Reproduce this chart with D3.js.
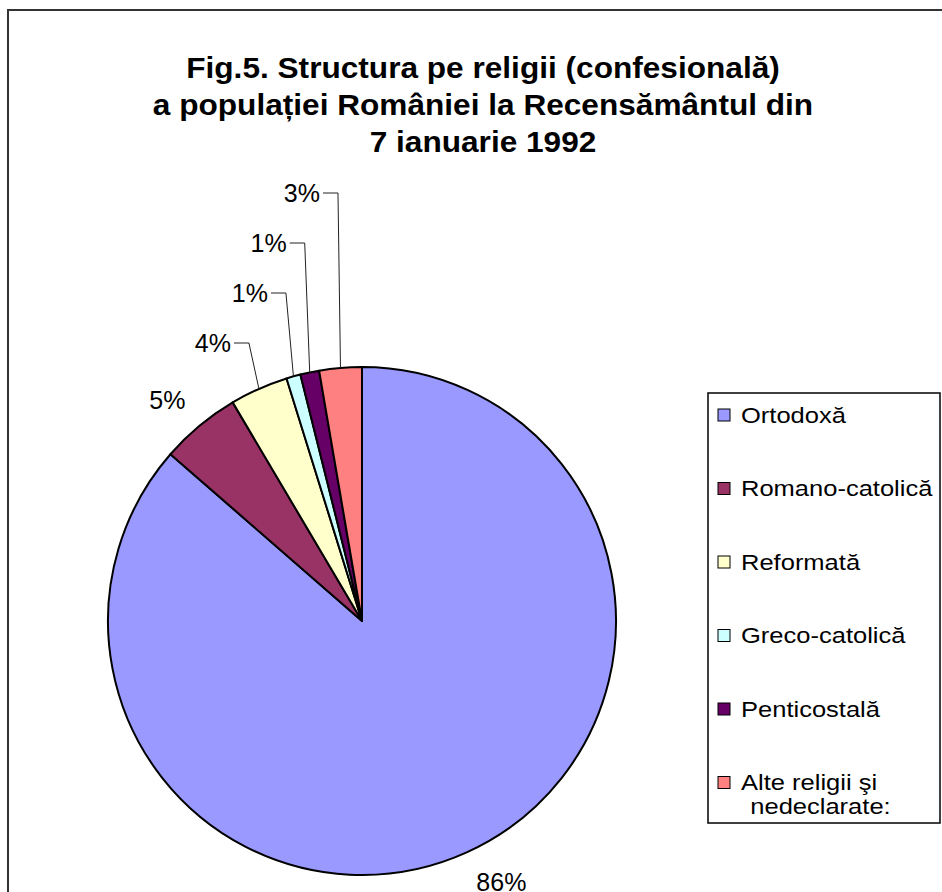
<html>
<script src="https://d3js.org/d3.v7.js"></script>
<body style="margin:0; background:#fff;">
<svg id="chart" width="942" height="892"></svg>
<script>
    // religii, recensamantul 1992 (proportii)
    let religii = ["Ortodoxă", "Romano-catolică", "Reformată", "Greco-catolică", "Penticostală", "Alte religii şi nedeclarate:"];
    let procente = [0.864, 0.051, 0.037, 0.009, 0.012, 0.027];
    let culori = ["#9999FF", "#993366", "#FFFFCC", "#CCFFFF", "#660066", "#FF8080"];
    let titlu = ["Fig.5. Structura pe religii (confesională)", "a populației României la Recensământul din", "7 ianuarie 1992"];

    let svg = d3.select("#chart");
    let font = "Arial, 'Liberation Sans', sans-serif";

    // chenar exterior
    svg.append("rect")
        .attr("x", 8).attr("y", 10)
        .attr("width", 960).attr("height", 920)
        .attr("fill", "white")
        .attr("stroke", "#333").attr("stroke-width", 2);

    svg.selectAll(".title").data(titlu).join("text")
        .attr("class", "title")
        .attr("transform", (d, i) => `translate(483,${78 + i * 37}) scale(1.09,1)`)
        .attr("text-anchor", "middle")
        .style("font-family", font)
        .style("font-weight", "bold")
        .style("font-size", "29px")
        .text(d => d);

    let cx = 362, cy = 621, r = 254;
    let pie = d3.pie().sort(null).value(d => d);
    let arcs = pie(procente);
    let arc = d3.arc().innerRadius(0).outerRadius(r);
    let edge = d3.arc().innerRadius(r).outerRadius(r);
    let outside = d3.arc().innerRadius(r + 22).outerRadius(r + 22);
    let fmt = d3.format(".0%");

    let g = svg.append("g").attr("transform", `translate(${cx},${cy})`);
    g.selectAll(".slice").data(arcs).join("path")
        .attr("class", "slice")
        .attr("d", arc)
        .attr("fill", (d, i) => culori[i])
        .attr("stroke", "black")
        .attr("stroke-width", 2)
        .attr("stroke-linejoin", "round");

    // etichete mari: coltul cel mai apropiat al textului langa felie
    let mari = arcs.filter(d => d.value > 0.045);
    g.selectAll(".lbl").data(mari).join("text")
        .attr("class", "lbl")
        .attr("x", d => outside.centroid(d)[0])
        .attr("y", d => outside.centroid(d)[1])
        .attr("dy", d => outside.centroid(d)[1] > 0 ? "0.75em" : "0")
        .attr("text-anchor", d => outside.centroid(d)[0] > 0 ? "start" : "end")
        .style("font-family", font)
        .style("font-size", "25px")
        .text(d => fmt(d.value));

    // etichete mici, stivuite deasupra cu linii de legatura
    let mici = arcs.filter(d => d.value <= 0.045);
    mici.forEach((d, k) => {
        let p = edge.centroid(d);
        let ly = -r - 24 - k * 50;
        let ex = p[0] - (mici.length - k) * 2.5;
        g.append("polyline")
            .attr("points", [[ex - 15, ly], [ex, ly], p].map(q => q.join(",")).join(" "))
            .attr("fill", "none")
            .attr("stroke", "#222")
            .attr("stroke-width", 1);
        g.append("text")
            .attr("x", ex - 18)
            .attr("y", ly)
            .attr("dy", "0.35em")
            .attr("text-anchor", "end")
            .style("font-family", font)
            .style("font-size", "25px")
            .text(fmt(d.value));
    });

    // legenda
    let leg = svg.append("g").attr("transform", "translate(708,393)");
    leg.append("rect")
        .attr("width", 232).attr("height", 430)
        .attr("fill", "white")
        .attr("stroke", "black").attr("stroke-width", 1.5);
    let item = leg.selectAll(".item").data(religii).join("g")
        .attr("class", "item")
        .attr("transform", (d, i) => `translate(10,${22 + i * 73.5})`);
    item.append("rect")
        .attr("x", 0).attr("y", -6)
        .attr("width", 12).attr("height", 12)
        .attr("fill", (d, i) => culori[i])
        .attr("stroke", "black").attr("stroke-width", 1);
    item.append("text")
        .attr("transform", "translate(23,0) scale(1.16,1)")
        .style("font-family", font)
        .style("font-size", "22px")
        .each(function (d) {
            let t = d3.select(this);
            let parts = d === religii[5] ? ["Alte religii şi", "nedeclarate:"] : [d];
            parts.forEach((s, j) => {
                t.append("tspan")
                    .attr("x", j === 0 ? 0 : 8)
                    .attr("dy", j === 0 ? "0.35em" : "1.1em")
                    .text(s);
            });
        });
</script>
</body>
</html>
